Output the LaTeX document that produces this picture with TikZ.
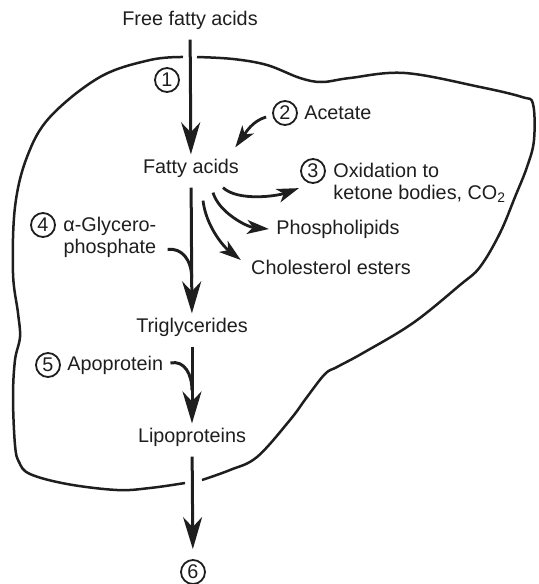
\documentclass[tikz,border=0pt]{standalone}
\usepackage{fontspec}
\setmainfont{Liberation Sans}
\usetikzlibrary{arrows.meta,positioning}
\definecolor{liverink}{HTML}{1E1E1E}

\begin{document}
\begin{tikzpicture}[x=0.5pt,y=-0.5pt,>=Stealth,font=\fontsize{9.9}{10.8}\selectfont,text=liverink,
 stage/.style={inner sep=2pt},
 num/.style={draw=liverink,circle,line width=0.9pt,inner sep=0pt,minimum size=12pt},
 main/.style={draw=liverink,line width=1.5pt,shorten <=3pt,-{Stealth[length=16pt,width=9.5pt,inset=5pt]}},
 side/.style={draw=liverink,line width=1.4pt,-{Stealth[length=11pt,width=7pt,inset=3pt]}},
 feed/.style={draw=liverink,line width=1.5pt},
 outline/.style={draw=liverink,line width=1.25pt,line join=round}]
\useasboundingbox (0,0) rectangle (538,584);
\node[stage](ffa) at (190,20){Free fatty acids};
\node[stage](fa) at (191,168){Fatty acids};
\node[stage](tg) at (192,327){Triglycerides};
\node[stage](lp) at (192,437){Lipoproteins};
\node[num](c1) at (167,80){1};
\node[num](c2) at (285,113){2};
\node[stage,right=1pt of c2](ac){Acetate};
\node[num](c3) at (313,171){3};
\node[stage,anchor=base west,align=left](ox) at ([shift={(16,21.6)}]c3.base){Oxidation to\\ketone bodies, CO\textsubscript{2}};
\node[stage](ph) at (338,229){Phospholipids};
\node[stage](ce) at (331,267){Cholesterol esters};
\node[num](c4) at (43,225){4};
\node[stage,anchor=base west,align=center](gp) at ([shift={(16,21.6)}]c4.base){α-Glycero-\\phosphate};
\node[num](c5) at (48,365){5};
\node[stage,right=1pt of c5](ap){Apoprotein};
\node[num](c6) at (193,572){6};
\draw[outline] plot[smooth,tension=0.6] coordinates {(183,57) (150,60) (100,77) (50,117) (27,157) (15,207) (13,273) (18,313) (20,337) (15,360) (13,397) (15,445) (19,462) (30,474) (67,484) (117,490) (150,488) (185,483)};
\draw[outline] plot[smooth,tension=0.6] coordinates {(197,57) (233,59) (267,65) (300,78) (322,82) (350,78) (405,73) (480,87) (522,97) (533,104) (534,140) (527,167) (515,197) (500,233) (480,267) (460,285) (413,323) (363,353) (337,367) (325,374) (307,397) (290,420) (257,457) (230,470) (202,480)};
\draw[main](ffa)--(fa);
\draw[main](fa)--coordinate[pos=0.73](j4)(tg);
\draw[main](tg)--coordinate[pos=0.6](j5)(lp);
\draw[main,shorten >=5pt](lp)--(c6);
\draw[side]([shift={(-6,4)}]c2.west) .. controls +(-14,4) and +(10,-14) .. ([shift={(-8,-7)}]fa.north east);
\draw[side]([shift={(32,6)}]fa.south) .. controls +(15,14) and +(-22,8) .. ([shift={(-5,8)}]c3.south west);
\draw[side]([shift={(22,11)}]fa.south) .. controls +(6,20) and +(-22,-2) .. ([shift={(-3,0)}]ph.west);
\draw[side]([shift={(12,19)}]fa.south) .. controls +(3,25) and +(-18,-14) .. ([shift={(-6,-7)}]ce.west);
\draw[feed]([shift={(7,12)}]gp.east) .. controls +(14,-2) and +(0,-18) .. (j4);
\draw[feed]([shift={(3,-2)}]ap.east) .. controls +(14,-3) and +(0,-16) .. (j5);
\end{tikzpicture}
\end{document}
